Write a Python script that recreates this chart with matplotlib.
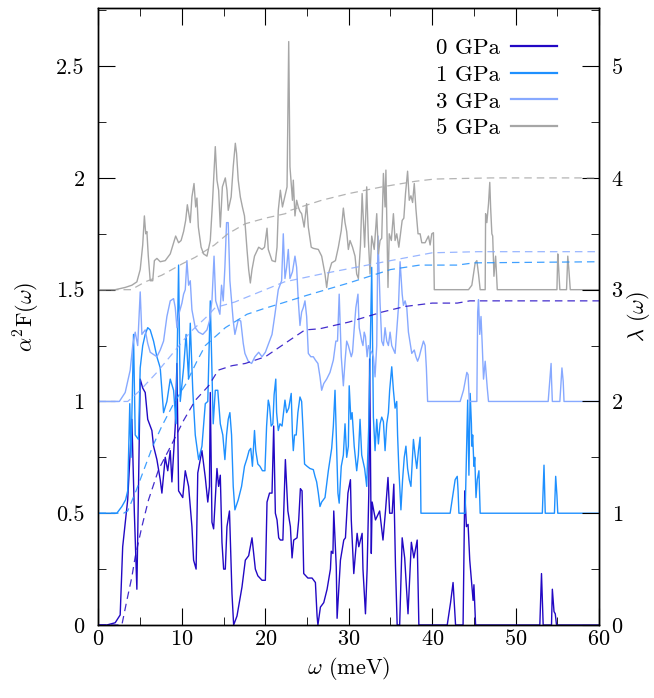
import numpy as np
import matplotlib
matplotlib.use("Agg")
import matplotlib.pyplot as plt
from matplotlib.lines import Line2D
from matplotlib.ticker import MultipleLocator

plt.rcParams["font.family"] = "serif"
plt.rcParams["font.serif"] = ["cmr10"]
plt.rcParams["mathtext.fontset"] = "cm"
plt.rcParams["axes.unicode_minus"] = False
plt.rcParams["axes.formatter.use_mathtext"] = True
plt.rcParams["axes.linewidth"] = 1.0

pressures = ["0 GPa", "1 GPa", "3 GPa", "5 GPa"]
colors = ["#2208c4", "#1e90ff", "#87a9ff", "#a6a6a6"]

# alpha^2 F(omega), (meV, value) pairs, without the vertical offset
spec0 = [(0, 0), (1.0, 0), (2.0, 0.01), (2.6, 0.045), (2.9, 0.35), (3.5, 0.56), (4.0, 0.92), (4.3, 0.5),
         (4.6, 0.16), (5.0, 1.10), (5.3, 1.06), (5.6, 1.04), (5.9, 0.92), (6.4, 0.87), (6.6, 0.80), (7.0, 0.74),
         (7.4, 0.65), (7.6, 0.59), (8.0, 0.75), (8.3, 0.69), (8.6, 0.78), (8.8, 0.64), (9.2, 0.89), (9.4, 1.17),
         (9.6, 0.60), (10.1, 0.57), (10.4, 0.69), (10.8, 0.62), (11.2, 0.44), (11.4, 0.29), (11.7, 0.25),
         (11.9, 0.68), (12.4, 0.78), (12.8, 0.66), (13.1, 0.55), (13.3, 0.62), (13.4, 1.04), (13.6, 0.46),
         (13.8, 0.43), (14.2, 0.70), (14.4, 0.62), (14.6, 0.67), (14.8, 0.37), (15.0, 0.25), (15.2, 0.25),
         (15.4, 0.44), (15.7, 0.51), (16.0, 0.14), (16.2, 0.0), (16.6, 0.04), (17.2, 0.17), (17.6, 0.29),
         (18.0, 0.31), (18.4, 0.39), (18.8, 0.25), (19.1, 0.22), (19.6, 0.20), (20.0, 0.20), (20.2, 0.55),
         (20.5, 0.59), (20.8, 0.59), (21.0, 0.89), (21.2, 0.50), (21.4, 0.47), (21.6, 0.39), (21.8, 0.38),
         (22.1, 0.38), (22.4, 0.74), (22.7, 0.51), (23.0, 0.44), (23.2, 0.30), (23.4, 0.38), (23.8, 0.39),
         (24.0, 0.47), (24.2, 0.61), (24.4, 0.60), (24.6, 0.23), (25.1, 0.21), (25.6, 0.21), (26.0, 0.19),
         (26.2, 0.04), (26.3, 0.0), (26.6, 0.08), (27.0, 0.10), (27.4, 0.16), (27.8, 0.25), (27.9, 0.33),
         (28.1, 0.32), (28.2, 0.51), (28.5, 0.26), (28.6, 0.03), (29.0, 0.29), (29.4, 0.38), (29.6, 0.39),
         (29.9, 0.59), (30.2, 0.65), (30.3, 0.47), (30.6, 0.23), (31.0, 0.41), (31.2, 0.35), (31.6, 0.41),
         (31.7, 0.25), (32.0, 0.05), (32.2, 0.25), (32.4, 0.59), (32.5, 1.19), (32.7, 0.32), (32.8, 0.55),
         (33.2, 0.47), (33.7, 0.51), (34.1, 0.38), (34.4, 0.51), (34.7, 0.66), (34.9, 0.50), (35.2, 0.50),
         (35.4, 0.63), (35.6, 0.26), (35.8, 0.0), (36.1, 0.0), (36.4, 0.39), (36.7, 0.30), (37.1, 0.05),
         (37.5, 0.37), (37.8, 0.30), (38.2, 0.38), (38.4, 0.0), (41.8, 0.0), (42.2, 0.10), (42.5, 0.19),
         (42.8, 0.0), (43.7, 0.0), (43.9, 0.60), (44.1, 0.44), (44.3, 0.45), (44.5, 0.29), (44.7, 0.20),
         (44.9, 0.11), (45.0, 0.18), (45.2, 0.0), (52.9, 0.0), (53.1, 0.23), (53.3, 0.0), (54.3, 0.0),
         (54.4, 0.16), (54.6, 0.06), (54.75, 0.05), (54.9, 0.0), (60, 0.0)]

spec1 = [(0, 0), (2.2, 0), (2.8, 0.03), (3.25, 0.06), (3.5, 0.10), (3.75, 0.49), (3.9, 0.25), (4.2, 0.80),
         (4.4, 0.35), (4.8, 0.33), (5.0, 0.65), (5.3, 0.75), (5.6, 0.80), (5.9, 0.83), (6.2, 0.82), (6.6, 0.77),
         (7.0, 0.70), (7.4, 0.65), (7.8, 0.45), (8.2, 0.50), (8.6, 0.60), (9.0, 0.55), (9.3, 0.40), (9.6, 1.11),
         (9.8, 0.50), (10.2, 0.65), (10.5, 0.80), (10.8, 0.60), (11.0, 0.85), (11.3, 0.55), (11.6, 0.35),
         (12.0, 0.24), (12.4, 0.30), (12.8, 0.49), (13.1, 0.50), (13.4, 0.95), (13.75, 0.40), (14.0, 0.55),
         (14.3, 0.55), (14.6, 0.40), (14.9, 0.35), (15.15, 0.24), (15.35, 0.35), (15.55, 0.42), (15.75, 0.45),
         (15.95, 0.35), (16.15, 0.12), (16.35, 0.015), (16.75, 0.06), (17.15, 0.12), (17.5, 0.21),
         (17.8, 0.245), (18.05, 0.28), (18.25, 0.29), (18.45, 0.21), (18.7, 0.37), (18.85, 0.28), (19.1, 0.22),
         (19.35, 0.21), (19.65, 0.19), (19.95, 0.19), (20.15, 0.39), (20.35, 0.506), (20.5, 0.48), (20.7, 0.39),
         (20.9, 0.40), (21.05, 0.53), (21.25, 0.60), (21.35, 0.45), (21.55, 0.37), (21.75, 0.40), (22.0, 0.39),
         (22.35, 0.506), (22.55, 0.45), (22.8, 0.47), (23.1, 0.536), (23.25, 0.35), (23.35, 0.28), (23.5, 0.35),
         (23.7, 0.35), (23.9, 0.45), (24.15, 0.52), (24.35, 0.50), (24.55, 0.35), (24.7, 0.22), (25.0, 0.21),
         (25.35, 0.20), (25.75, 0.195), (25.95, 0.165), (26.15, 0.14), (26.35, 0.09), (26.55, 0.03),
         (26.75, 0.05), (27.15, 0.07), (27.55, 0.19), (27.75, 0.24), (27.95, 0.29), (28.15, 0.39), (28.35, 0.55),
         (28.5, 0.35), (28.7, 0.09), (28.85, 0.045), (29.1, 0.21), (29.35, 0.26), (29.55, 0.40), (29.75, 0.25),
         (29.95, 0.30), (30.05, 0.57), (30.25, 0.42), (30.4, 0.45), (30.65, 0.30), (30.95, 0.19), (31.15, 0.26),
         (31.35, 0.42), (31.55, 0.26), (31.9, 0.20), (32.15, 0.12), (32.4, 0.40), (32.75, 1.10), (32.95, 0.43),
         (33.15, 0.28), (33.35, 0.42), (33.55, 0.31), (33.75, 0.40), (33.95, 0.43), (34.15, 0.41), (34.35, 0.28),
         (34.55, 0.40), (34.75, 0.45), (34.9, 0.55), (35.15, 0.655), (35.35, 0.55), (35.55, 0.47), (35.75, 0.50),
         (35.85, 0.35), (36.0, 0.20), (36.25, 0.015), (36.45, 0.15), (36.65, 0.25), (36.85, 0.30), (37.05, 0.20),
         (37.25, 0.15), (37.45, 0.12), (37.75, 0.33), (37.95, 0.26), (38.15, 0.20), (38.35, 0.28), (38.55, 0.34),
         (38.65, 0.0), (42.15, 0.0), (42.75, 0.15), (43.0, 0.165), (43.1, 0.10), (43.2, 0.0), (43.95, 0.0),
         (44.25, 0.506), (44.4, 0.17), (44.55, 0.536), (44.7, 0.40), (44.75, 0.30), (44.85, 0.35), (45.0, 0.21),
         (45.1, 0.25), (45.25, 0.07), (45.4, 0.15), (45.6, 0.19), (45.75, 0.0), (53.2, 0.0), (53.4, 0.215),
         (53.55, 0.0), (54.65, 0.0), (54.8, 0.165), (54.95, 0.08), (55.05, 0.0), (60, 0.0)]

spec3 = [(0, 0), (2.5, 0), (3.2, 0.04), (3.8, 0.14), (4.1, 0.25), (4.4, 0.31), (4.7, 0.25), (5.0, 0.49),
         (5.2, 0.30), (5.6, 0.32), (5.9, 0.26), (6.2, 0.22), (6.6, 0.21), (7.0, 0.20), (7.4, 0.23), (7.8, 0.27),
         (8.2, 0.38), (8.6, 0.45), (9.0, 0.46), (9.2, 0.42), (9.4, 0.33), (9.7, 0.40), (10.0, 0.44), (10.2, 0.48),
         (10.4, 0.50), (10.6, 0.63), (10.8, 0.52), (11.0, 0.54), (11.2, 0.41), (11.6, 0.33), (12.0, 0.31),
         (12.5, 0.30), (13.0, 0.32), (13.3, 0.36), (13.6, 0.45), (13.85, 0.65), (14.05, 0.45), (14.3, 0.42),
         (14.55, 0.39), (14.75, 0.52), (14.95, 0.45), (15.15, 0.60), (15.35, 0.80), (15.55, 0.80), (15.75, 0.54),
         (15.95, 0.45), (16.15, 0.36), (16.35, 0.30), (16.75, 0.365), (17.05, 0.36), (17.35, 0.26),
         (17.55, 0.215), (17.95, 0.18), (18.35, 0.17), (18.75, 0.20), (19.2, 0.22), (19.6, 0.20), (20.0, 0.22),
         (20.4, 0.26), (20.8, 0.30), (21.15, 0.39), (21.55, 0.50), (21.95, 0.54), (22.15, 0.75), (22.35, 0.55),
         (22.55, 0.60), (22.75, 0.68), (22.95, 0.55), (23.25, 0.58), (23.55, 0.65), (23.75, 0.60), (23.95, 0.45),
         (24.15, 0.34), (24.35, 0.40), (24.55, 0.42), (24.75, 0.45), (24.95, 0.38), (25.15, 0.215), (25.45, 0.20),
         (25.75, 0.20), (26.0, 0.185), (26.3, 0.17), (26.55, 0.11), (26.75, 0.05), (27.0, 0.08), (27.35, 0.10),
         (27.75, 0.13), (28.15, 0.185), (28.45, 0.27), (28.65, 0.27), (28.85, 0.48), (29.1, 0.20), (29.35, 0.07),
         (29.55, 0.18), (29.75, 0.27), (29.95, 0.25), (30.3, 0.20), (30.45, 0.22), (30.65, 0.325), (30.85, 0.42),
         (31.1, 0.48), (31.25, 0.33), (31.55, 0.27), (31.7, 0.25), (31.85, 0.31), (32.0, 0.29), (32.2, 0.20),
         (32.35, 0.25), (32.55, 0.23), (32.75, 0.22), (32.95, 0.20), (33.15, 0.11), (33.35, 0.25), (33.5, 0.74),
         (33.75, 0.44), (33.95, 0.27), (34.15, 0.25), (34.35, 0.33), (34.55, 0.27), (34.75, 0.25), (34.95, 0.31),
         (35.15, 0.25), (35.55, 0.215), (35.95, 0.42), (36.15, 0.625), (36.4, 0.48), (36.55, 0.43), (36.75, 0.45),
         (36.95, 0.42), (37.15, 0.31), (37.55, 0.215), (37.85, 0.23), (38.05, 0.20), (38.25, 0.18), (38.45, 0.20),
         (38.65, 0.23), (38.95, 0.27), (39.15, 0.25), (39.3, 0.15), (39.45, 0.0), (43.35, 0.0), (43.75, 0.05),
         (44.15, 0.13), (44.3, 0.12), (44.45, 0.0), (45.35, 0.0), (45.45, 0.40), (45.55, 0.455), (45.7, 0.30),
         (45.85, 0.38), (46.0, 0.25), (46.15, 0.10), (46.35, 0.18), (46.6, 0.06), (46.75, 0.0), (53.9, 0.0),
         (54.1, 0.10), (54.25, 0.17), (54.3, 0.10), (54.4, 0.0), (55.3, 0.0), (55.55, 0.15), (55.7, 0.09),
         (55.8, 0.0), (60, 0.0)]

spec5 = [(0, 0), (2.0, 0), (3.2, 0.01), (4.0, 0.02), (4.6, 0.035), (5.0, 0.09), (5.3, 0.20), (5.5, 0.33),
         (5.66, 0.25), (5.8, 0.26), (5.97, 0.15), (6.2, 0.04), (6.5, 0.04), (6.7, 0.13), (7.0, 0.14), (7.4, 0.125),
         (8.0, 0.13), (8.6, 0.16), (9.0, 0.21), (9.25, 0.24), (9.6, 0.21), (9.9, 0.22), (10.2, 0.26), (10.45, 0.31),
         (10.65, 0.38), (11.0, 0.30), (11.2, 0.415), (11.45, 0.475), (11.65, 0.37), (11.8, 0.41), (11.97, 0.28),
         (12.3, 0.19), (12.6, 0.16), (13.0, 0.15), (13.4, 0.22), (13.65, 0.38), (14.0, 0.64), (14.2, 0.49),
         (14.4, 0.445), (14.6, 0.28), (14.85, 0.46), (15.2, 0.50), (15.4, 0.445), (15.55, 0.355), (15.9, 0.415),
         (16.15, 0.55), (16.4, 0.655), (16.55, 0.61), (16.75, 0.49), (17.0, 0.415), (17.25, 0.37), (17.5, 0.33),
         (17.8, 0.18), (18.0, 0.09), (18.2, 0.03), (18.4, 0.09), (18.7, 0.15), (19.2, 0.19), (19.6, 0.18),
         (19.9, 0.19), (20.2, 0.275), (20.35, 0.18), (20.8, 0.13), (21.2, 0.125), (21.4, 0.19), (21.55, 0.355),
         (21.8, 0.445), (22.05, 0.37), (22.3, 0.41), (22.6, 0.46), (22.8, 1.11), (22.95, 0.55), (23.25, 0.40),
         (23.35, 0.49), (23.55, 0.33), (23.75, 0.40), (23.95, 0.37), (24.15, 0.35), (24.35, 0.34), (24.65, 0.28),
         (24.95, 0.385), (25.15, 0.28), (25.5, 0.19), (25.75, 0.185), (26.35, 0.18), (26.75, 0.15), (27.15, 0.07),
         (27.35, 0.01), (27.55, 0.07), (27.95, 0.12), (28.4, 0.13), (28.75, 0.19), (29.1, 0.265), (29.35, 0.365),
         (29.55, 0.30), (29.75, 0.26), (29.95, 0.18), (30.15, 0.22), (30.45, 0.19), (30.75, 0.15), (30.95, 0.07),
         (31.15, 0.05), (31.4, 0.20), (31.6, 0.43), (31.9, 0.19), (32.15, 0.46), (32.35, 0.22), (32.55, 0.07),
         (32.75, 0.24), (33.05, 0.18), (33.35, 0.34), (33.55, 0.16), (33.75, 0.22), (33.95, 0.23), (34.15, 0.52),
         (34.35, 0.37), (34.45, 0.535), (34.7, 0.01), (34.85, 0.25), (35.1, 0.22), (35.35, 0.34), (35.55, 0.22),
         (35.75, 0.25), (36.0, 0.19), (36.2, 0.25), (36.4, 0.31), (36.6, 0.32), (36.8, 0.43), (37.05, 0.53),
         (37.25, 0.40), (37.45, 0.42), (37.65, 0.39), (37.85, 0.475), (38.05, 0.36), (38.3, 0.25), (38.55, 0.25),
         (38.75, 0.21), (39.15, 0.21), (39.55, 0.24), (39.75, 0.20), (39.95, 0.25), (40.15, 0.255), (40.25, 0.0),
         (44.35, 0.0), (44.75, 0.02), (45.15, 0.12), (45.35, 0.13), (45.55, 0.07), (45.75, 0.0), (46.35, 0.0),
         (46.4, 0.34), (46.55, 0.30), (46.75, 0.385), (46.9, 0.48), (47.0, 0.37), (47.15, 0.25), (47.25, 0.24),
         (47.4, 0.06), (47.6, 0.15), (47.8, 0.0), (54.95, 0.0), (55.05, 0.16), (55.15, 0.10), (55.3, 0.0),
         (56.1, 0.0), (56.25, 0.15), (56.4, 0.08), (56.55, 0.0), (60, 0.0)]

# cumulative lambda(omega), (meV, value) pairs, without the vertical offset
lam0 = [(0, 0), (2.8, 0), (3.4, 0.22), (4.0, 0.43), (4.4, 0.61), (5.2, 0.88), (6.0, 1.12), (7.2, 1.39),
        (8.8, 1.62), (10.2, 1.83), (11.6, 2.01), (13.2, 2.14), (14.35, 2.28), (16.0, 2.32), (17.6, 2.34),
        (20.0, 2.40), (23.15, 2.56), (24.75, 2.64), (26.5, 2.65), (30.0, 2.71), (34.0, 2.80), (36.75, 2.85),
        (40.0, 2.88), (43.0, 2.88), (44.5, 2.90), (60, 2.90)]
lam1 = [(0, 0), (3.0, 0), (3.5, 0.02), (4.5, 0.20), (5.5, 0.40), (6.5, 0.60), (7.6, 0.78), (9.0, 0.98),
        (10.5, 1.16), (11.8, 1.36), (12.8, 1.50), (15.2, 1.66), (17.8, 1.78), (19.8, 1.83), (22.0, 1.88),
        (25.0, 1.95), (30.0, 2.06), (35.0, 2.18), (38.5, 2.22), (43.0, 2.22), (45.0, 2.24), (60, 2.25)]
lam3 = [(0, 0), (3.5, 0), (5.0, 0.10), (7.0, 0.26), (9.0, 0.44), (11.0, 0.62), (13.0, 0.76), (14.0, 0.84),
        (16.35, 0.89), (18.0, 0.94), (22.3, 1.07), (26.7, 1.14), (35.0, 1.26), (40.0, 1.33), (45.5, 1.34),
        (60, 1.34)]
lam5 = [(0, 0), (4.0, 0), (4.4, 0.02), (5.6, 0.07), (7.6, 0.13), (10.0, 0.23), (11.6, 0.29), (13.9, 0.40),
        (15.5, 0.50), (17.6, 0.59), (20.0, 0.64), (22.4, 0.68), (23.0, 0.71), (26.75, 0.80), (30.0, 0.86),
        (34.0, 0.92), (38.0, 0.97), (40.3, 0.99), (47.0, 1.00), (60, 1.00)]

spectra = [spec0, spec1, spec3, spec5]
lambdas = [lam0, lam1, lam3, lam5]
offsets = [0.0, 0.5, 1.0, 1.5]

fig = plt.figure(figsize=(6.54, 6.98), dpi=100)
ax = fig.add_axes([0.1506, 0.1046, 0.7654, 0.8839])
ax2 = ax.twinx()

for spec, lam, off, c in zip(spectra, lambdas, offsets, colors):
    s = np.array(spec)
    ax.plot(s[:, 0], s[:, 1] + off, color=c, lw=1.0)
    l = np.array(lam)
    ax2.plot(l[:, 0], l[:, 1] + 2 * off, color=c, lw=0.9, alpha=0.85, ls=(0, (6, 4)))

ax.set_xlim(0, 60)
ax.set_ylim(0, 2.76)
ax2.set_ylim(0, 5.52)

ax.xaxis.set_major_locator(MultipleLocator(10))
ax.xaxis.set_minor_locator(MultipleLocator(5))
ax.yaxis.set_major_locator(MultipleLocator(0.5))
ax.yaxis.set_minor_locator(MultipleLocator(0.25))
ax2.yaxis.set_major_locator(MultipleLocator(1))
ax2.yaxis.set_minor_locator(MultipleLocator(0.5))
ax.yaxis.set_major_formatter(plt.FuncFormatter(lambda v, p: "%g" % v))
ax2.yaxis.set_major_formatter(plt.FuncFormatter(lambda v, p: "%g" % v))

ax.tick_params(which="both", direction="in", top=True, right=False, labelsize=16)
ax.tick_params(axis="x", pad=3)
ax.tick_params(axis="y", pad=10)
ax.tick_params(which="major", length=12)
ax.tick_params(which="minor", length=6)
ax2.tick_params(which="both", direction="in", labelsize=16, pad=9)
ax2.tick_params(which="major", length=12)
ax2.tick_params(which="minor", length=6)

ax.set_xlabel(r"$\omega$ (meV)", fontsize=16, labelpad=4)
ax.set_ylabel(r"$\alpha^2$F($\omega$)", fontsize=16, labelpad=10)
ax2.set_ylabel(r"$\lambda$ ($\omega$)", fontsize=16, labelpad=2)

handles = [Line2D([], [], color=c, lw=1.6) for c in colors]
ax.legend(handles, pressures, loc="upper right", bbox_to_anchor=(0.916, 0.952), frameon=False,
          markerfirst=False, fontsize=16.5, handlelength=2.0, handletextpad=0.5, labelspacing=0.3,
          borderaxespad=0, borderpad=0)

fig.savefig("out.png", dpi=100)
